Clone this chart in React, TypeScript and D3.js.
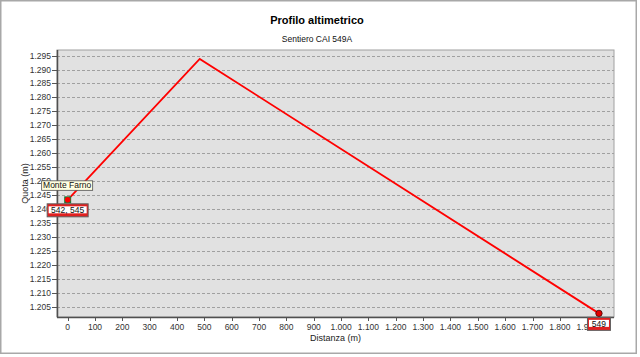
import React from "react";
import * as d3 from "d3";

const distances = [0, 483, 1943];
const elevations = [1243.3, 1293.8, 1202.6];
const pointLabels = ["542, 545", "", "549"];
const waypointNames = ["Monte Farno", "", ""];
const xTicks = [0, 100, 200, 300, 400, 500, 600, 700, 800, 900, 1000, 1100, 1200, 1300, 1400, 1500, 1600, 1700, 1800, 1900];
const yTicks = [1205, 1210, 1215, 1220, 1225, 1230, 1235, 1240, 1245, 1250, 1255, 1260, 1265, 1270, 1275, 1280, 1285, 1290, 1295];
const xDomain = [-39, 1998];
const yDomain = [1201.3, 1297];

const title = "Profilo altimetrico";
const subtitle = "Sentiero CAI 549A";
const xTitle = "Distanza (m)";
const yTitle = "Quota (m)";

const W = 640;
const H = 357;
const plot = { left: 57, right: 614, top: 50, bottom: 317 };
const FONT = "'Liberation Sans', Arial, sans-serif";

const itLocale = d3.formatLocale({ decimal: ",", thousands: ".", grouping: [3], currency: ["", "€"] });
const fmt = itLocale.format(",d");

export default function App() {
  const x = d3.scaleLinear().domain(xDomain).range([plot.left, plot.right]);
  const y = d3.scaleLinear().domain(yDomain).range([plot.bottom, plot.top]);
  const line = d3
    .line<number>()
    .x((_, i) => x(distances[i]))
    .y((d) => y(d));
  const cx = (plot.left + plot.right) / 2;
  const cy = (plot.top + plot.bottom) / 2;

  const last = distances.length - 1;
  const labelBox = (i: number, text: string, width: number) => {
    const px = x(distances[i]);
    const py = y(elevations[i]);
    const bx = px - width / 2;
    const by = py + 4;
    const h = 13;
    return (
      <g key={"lb" + i}>
        <rect x={bx} y={by} width={width} height={h} fill="#e02020" stroke="#606060" strokeWidth={1} />
        <rect x={bx + 1.5} y={by + 2.5} width={width - 3} height={h - 6} fill="#ffffff" />
        <text x={px} y={by + 9.5} textAnchor="middle" fontSize={8.5} fontFamily={FONT} fill="#111">
          {text}
        </text>
      </g>
    );
  };

  return (
    <div style={{ position: "fixed", left: 0, top: 0 }}>
      <svg width={W} height={H} style={{ display: "block", background: "#fff" }}>
        <rect x={0.75} y={0.75} width={635.5} height={352.5} fill="#fff" stroke="#a8a8a8" strokeWidth={1.5} />
        <text x={317} y={24} textAnchor="middle" fontSize={11} fontWeight="bold" fontFamily={FONT} fill="#000">
          {title}
        </text>
        <text x={317} y={42} textAnchor="middle" fontSize={8.5} fontFamily={FONT} fill="#111">
          {subtitle}
        </text>

        <rect x={plot.left} y={plot.top} width={plot.right - plot.left} height={plot.bottom - plot.top} fill="#e1e1e1" stroke="#a0a0a0" strokeWidth={1} />

        {yTicks.map((t) => (
          <g key={"y" + t}>
            <line x1={plot.left} x2={plot.right} y1={Math.round(y(t)) + 0.5} y2={Math.round(y(t)) + 0.5} stroke="#a0a0a0" strokeDasharray="3,2" />
            <line x1={plot.left - 5} x2={plot.left} y1={Math.round(y(t)) + 0.5} y2={Math.round(y(t)) + 0.5} stroke="#555" />
            <text x={plot.left - 6} y={y(t) + 3} textAnchor="end" fontSize={8.5} fontFamily={FONT} fill="#333">
              {itLocale.format(",.3f")(t / 1000).replace(",", ".")}
            </text>
          </g>
        ))}
        {xTicks.map((t) => (
          <g key={"x" + t}>
            <line x1={Math.round(x(t)) + 0.5} x2={Math.round(x(t)) + 0.5} y1={plot.bottom} y2={plot.bottom + 4} stroke="#555" />
            <text x={x(t)} y={plot.bottom + 13} textAnchor="middle" fontSize={8.5} fontFamily={FONT} fill="#333">
              {fmt(t)}
            </text>
          </g>
        ))}

        <line x1={plot.left + 0.5} x2={plot.left + 0.5} y1={plot.top} y2={plot.bottom} stroke="#505050" strokeWidth={1.5} />
        <line x1={plot.left} x2={plot.right} y1={plot.bottom + 0.5} y2={plot.bottom + 0.5} stroke="#505050" strokeWidth={1.5} />

        <text x={cx} y={341} textAnchor="middle" fontSize={9} fontFamily={FONT} fill="#222">
          {xTitle}
        </text>
        <text transform={`translate(28,${cy}) rotate(-90)`} textAnchor="middle" fontSize={9} fontFamily={FONT} fill="#222">
          {yTitle}
        </text>

        <path d={line(elevations) || ""} fill="none" stroke="#ff0000" strokeWidth={1.8} />

        <rect x={x(distances[0]) - 3.5} y={y(elevations[0]) - 3.5} width={7} height={7} fill="#1f7a3a" />
        <circle cx={x(distances[0])} cy={y(elevations[0])} r={2.8} fill="#ff0000" />
        <circle cx={x(distances[last])} cy={y(elevations[last])} r={3.2} fill="#e00000" stroke="#400000" strokeWidth={0.8} />

        {labelBox(0, pointLabels[0], 41)}
        {labelBox(last, pointLabels[last], 23)}

        <g>
          <rect x={x(distances[0]) - 26} y={y(elevations[0]) - 19} width={51} height={9.5} fill="#ffffe1" stroke="#505050" strokeWidth={0.8} />
          <text x={x(distances[0]) - 0.5} y={y(elevations[0]) - 11.5} textAnchor="middle" fontSize={8.5} fontFamily={FONT} fill="#111">
            {waypointNames[0]}
          </text>
        </g>
      </svg>
    </div>
  );
}
